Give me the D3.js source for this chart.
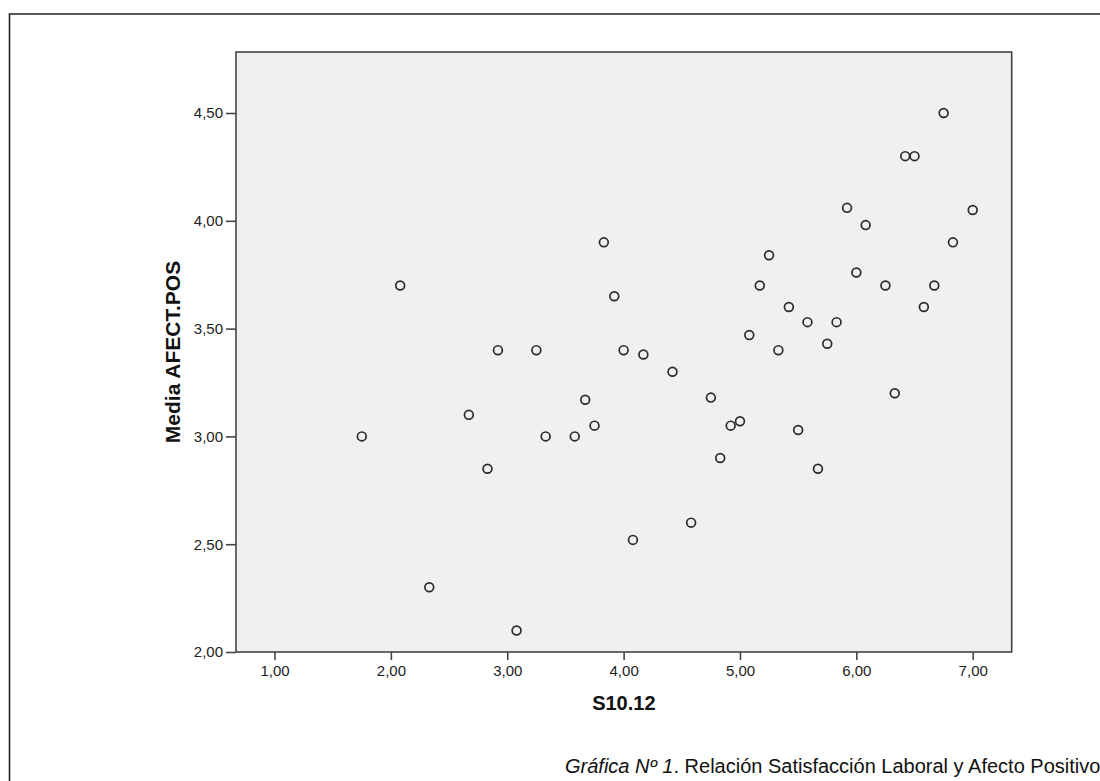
<!DOCTYPE html>
<html lang="es">
<head>
<meta charset="utf-8">
<title>Gráfica Nº 1</title>
<script src="https://cdn.jsdelivr.net/npm/d3@7/dist/d3.min.js"></script>
<style>
  html, body { margin: 0; padding: 0; background: #fff; }
  svg { display: block; }
</style>
</head>
<body>
<svg id="chart" width="1100" height="781"></svg>
<script>
/* Scatter: S10.12 vs Media AFECT.POS (SPSS style) */
const satisfaccion = [
  1.75, 2.08, 2.33, 2.67, 2.83, 2.92, 3.08, 3.25, 3.33, 3.58,
  3.67, 3.75, 3.83, 3.92, 4.00, 4.08, 4.17, 4.42, 4.58, 4.75,
  4.83, 4.92, 5.00, 5.08, 5.17, 5.25, 5.33, 5.42, 5.50, 5.58,
  5.67, 5.75, 5.83, 5.92, 6.00, 6.08, 6.25, 6.33, 6.42, 6.50,
  6.58, 6.67, 6.75, 6.83, 7.00
];
const afectoPos = [
  3.00, 3.70, 2.30, 3.10, 2.85, 3.40, 2.10, 3.40, 3.00, 3.00,
  3.17, 3.05, 3.90, 3.65, 3.40, 2.52, 3.38, 3.30, 2.60, 3.18,
  2.90, 3.05, 3.07, 3.47, 3.70, 3.84, 3.40, 3.60, 3.03, 3.53,
  2.85, 3.43, 3.53, 4.06, 3.76, 3.98, 3.70, 3.20, 4.30, 4.30,
  3.60, 3.70, 4.50, 3.90, 4.05
];
const xTicks = [1, 2, 3, 4, 5, 6, 7];
const yTicks = [2, 2.5, 3, 3.5, 4, 4.5];
const xDomain = [0.669, 7.335];
const yDomain = [2, 4.783];

const xTitle = 'S10.12';
const yTitle = 'Media AFECT.POS';
const captionItalic = 'Gráfica Nº 1';
const captionRest = '. Relación Satisfacción Laboral y Afecto Positivo';

(function () {
  'use strict';

  const svg = d3.select('#chart');
  const plot = { left: 236, top: 52, right: 1011.7, bottom: 652 };
  const axisColor = '#444';
  const labelFont = '"Liberation Sans", Arial, sans-serif';

  // comma as decimal separator, like the SPSS output
  const fmt = (v) => d3.format('.2f')(v).replace('.', ',');

  const x = d3.scaleLinear().domain(xDomain).range([plot.left, plot.right]);
  const y = d3.scaleLinear().domain(yDomain).range([plot.bottom, plot.top]);

  // outer frame (only top and left edges visible in the crop)
  svg.append('path')
    .attr('d', `M9.5,781 V14 H1100`)
    .attr('fill', 'none')
    .attr('stroke', '#222')
    .attr('stroke-width', 1.6);

  // plot background
  svg.append('rect')
    .attr('x', plot.left).attr('y', plot.top)
    .attr('width', plot.right - plot.left).attr('height', plot.bottom - plot.top)
    .attr('fill', '#f0f0f0');

  // axes
  const gx = svg.append('g')
    .attr('transform', `translate(0,${plot.bottom})`)
    .call(d3.axisBottom(x).tickValues(xTicks).tickFormat(fmt).tickSize(8).tickPadding(5));
  const gy = svg.append('g')
    .attr('transform', `translate(${plot.left},0)`)
    .call(d3.axisLeft(y).tickValues(yTicks).tickFormat(fmt).tickSize(10).tickPadding(3));

  [gx, gy].forEach((g) => {
    g.select('.domain').remove();
    g.selectAll('.tick line').attr('stroke', axisColor).attr('stroke-width', 1.6);
    g.selectAll('.tick text')
      .style('font-family', labelFont)
      .style('font-size', '15px')
      .attr('fill', '#222');
  });

  // plot border on top of the background
  svg.append('rect')
    .attr('x', plot.left).attr('y', plot.top)
    .attr('width', plot.right - plot.left).attr('height', plot.bottom - plot.top)
    .attr('fill', 'none')
    .attr('stroke', axisColor)
    .attr('stroke-width', 1.6);

  // points
  svg.append('g')
    .selectAll('circle')
    .data(satisfaccion.map((v, i) => [v, afectoPos[i]]))
    .enter().append('circle')
    .attr('cx', (d) => x(d[0]))
    .attr('cy', (d) => y(d[1]))
    .attr('r', 4.4)
    .attr('fill', 'none')
    .attr('stroke', '#2a2a2a')
    .attr('stroke-width', 1.7);

  // axis titles
  svg.append('text')
    .attr('x', (plot.left + plot.right) / 2)
    .attr('y', 710)
    .attr('text-anchor', 'middle')
    .style('font-family', labelFont)
    .style('font-size', '20px')
    .style('font-weight', 'bold')
    .attr('fill', '#111')
    .text(xTitle);

  svg.append('text')
    .attr('transform', `translate(180,${(plot.top + plot.bottom) / 2}) rotate(-90)`)
    .attr('text-anchor', 'middle')
    .style('font-family', labelFont)
    .style('font-size', '21px')
    .style('font-weight', 'bold')
    .attr('fill', '#111')
    .text(yTitle);

  // caption
  const cap = svg.append('text')
    .attr('x', 565)
    .attr('y', 773)
    .style('font-family', labelFont)
    .style('font-size', '20px')
    .attr('fill', '#111');
  cap.append('tspan').style('font-style', 'italic').text(captionItalic);
  cap.append('tspan').text(captionRest);
})();
</script>
</body>
</html>
